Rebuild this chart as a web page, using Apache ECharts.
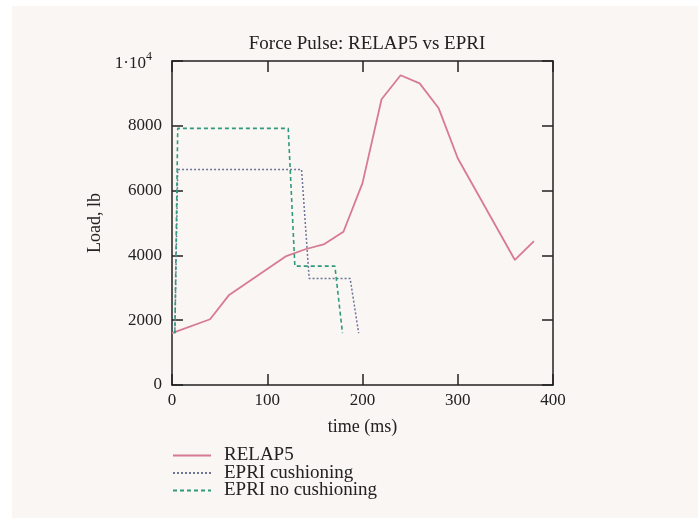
<!DOCTYPE html>
<html>
<head>
<meta charset="utf-8">
<script src="https://cdn.jsdelivr.net/npm/echarts@6/dist/echarts.min.js"></script>
<style>
    body { margin: 0; background: #ffffff; }
    #paper { position: absolute; left: 12px; top: 6px; width: 686px; height: 512px; background: #f9f6f3; }
    #chart { position: absolute; left: 0; top: 0; width: 699px; height: 520px; }
</style>
</head>
<body>
<div id="paper"></div>
<div id="chart"></div>
<script>
// RELAP5 curve | time (ms) vs load (lb)
const relapTime = [0, 40, 60, 120, 140, 160, 180, 200, 220, 240, 260, 280, 300, 360, 380];
const relapLoad = [1600, 2030, 2780, 3980, 4190, 4350, 4730, 6230, 8820, 9560, 9310, 8540, 7000, 3860, 4440];

// EPRI cushioning (dotted)
const cushTime = [3, 6, 136, 144, 187, 196];
const cushLoad = [1600, 6650, 6650, 3290, 3290, 1600];

// EPRI no cushioning (dashed)
const noCushTime = [3, 6, 122, 129, 171, 179];
const noCushLoad = [1600, 7920, 7920, 3670, 3670, 1600];

const xTicks = [0, 100, 200, 300, 400];
const yTicks = [0, 2000, 4000, 6000, 8000, 10000];

const serif = 'Liberation Serif';
const ink = '#222';

function pairs(xs, ys) {
    return xs.map((x, i) => [x, ys[i]]);
}

// frame axes (top / right) only carry inside ticks
function frameAxis(pos, lo, hi, step) {
    return {
        type: 'value',
        position: pos,
        min: lo,
        max: hi,
        interval: step,
        axisLine: { show: true, onZero: false, lineStyle: { color: ink, width: 1.5 } },
        axisTick: { inside: true, length: 11, lineStyle: { color: ink, width: 1.5 } },
        axisLabel: { show: false },
        splitLine: { show: false }
    };
}

const chart = echarts.init(document.getElementById('chart'));

const option = {
    animation: false,
    title: {
        text: 'Force Pulse: RELAP5 vs EPRI',
        left: 362,
        textAlign: 'center',
        top: 30,
        textStyle: { fontFamily: serif, fontSize: 19, fontWeight: 'normal', color: ink }
    },
    legend: {
        orient: 'vertical',
        left: 167,
        top: 441,
        itemWidth: 38,
        itemHeight: 10,
        itemGap: -1.5,
        itemStyle: { opacity: 0 },
        textStyle: { fontFamily: serif, fontSize: 19, lineHeight: 19, color: ink, padding: [0, 0, 0, 8] },
        data: ['RELAP5', 'EPRI cushioning', 'EPRI no cushioning']
    },
    grid: { left: 172, right: 146, top: 61, bottom: 135 },
    xAxis: [
        {
            type: 'value',
            min: xTicks[0],
            max: xTicks[xTicks.length - 1],
            interval: 100,
            name: 'time (ms)',
            nameLocation: 'middle',
            nameGap: 33,
            nameTextStyle: { fontFamily: serif, fontSize: 18, color: ink },
            axisLine: { show: true, onZero: false, lineStyle: { color: ink, width: 1.5 } },
            axisTick: { inside: true, length: 11, lineStyle: { color: ink, width: 1.5 } },
            axisLabel: { fontFamily: serif, fontSize: 17, color: ink, margin: 7 },
            splitLine: { show: false }
        },
        frameAxis('top', xTicks[0], xTicks[xTicks.length - 1], 100)
    ],
    yAxis: [
        {
            type: 'value',
            min: yTicks[0],
            max: yTicks[yTicks.length - 1],
            interval: 2000,
            name: 'Load, lb',
            nameLocation: 'middle',
            nameGap: 60,
            nameTextStyle: { fontFamily: serif, fontSize: 18, color: ink },
            axisLine: { show: true, onZero: false, lineStyle: { color: ink, width: 1.5 } },
            axisTick: { inside: true, length: 11, lineStyle: { color: ink, width: 1.5 } },
            axisLabel: {
                fontFamily: serif,
                fontSize: 17,
                color: ink,
                margin: 10,
                formatter: function (v) {
                    return v === 10000 ? '{a|1·10}{b|4}' : String(v);
                },
                rich: {
                    a: { fontFamily: serif, fontSize: 17, color: ink, padding: [6, 0, 0, 0] },
                    b: { fontFamily: serif, fontSize: 12, color: ink, padding: [0, 10, 8, 0] }
                }
            },
            splitLine: { show: false }
        },
        frameAxis('right', yTicks[0], yTicks[yTicks.length - 1], 2000)
    ],
    series: [
        {
            name: 'RELAP5',
            type: 'line',
            showSymbol: false,
            symbol: 'none',
            data: pairs(relapTime, relapLoad),
            itemStyle: { color: '#d87a92' },
            lineStyle: { color: '#d87a92', width: 1.8 }
        },
        {
            name: 'EPRI cushioning',
            type: 'line',
            showSymbol: false,
            symbol: 'none',
            data: pairs(cushTime, cushLoad),
            itemStyle: { color: '#6e7398' },
            lineStyle: { color: '#6e7398', width: 1.5, type: [2, 2] }
        },
        {
            name: 'EPRI no cushioning',
            type: 'line',
            showSymbol: false,
            symbol: 'none',
            data: pairs(noCushTime, noCushLoad),
            itemStyle: { color: '#2f9a7c' },
            lineStyle: { color: '#2f9a7c', width: 1.6, type: [4, 3] }
        }
    ]
};

chart.setOption(option);
</script>
</body>
</html>
